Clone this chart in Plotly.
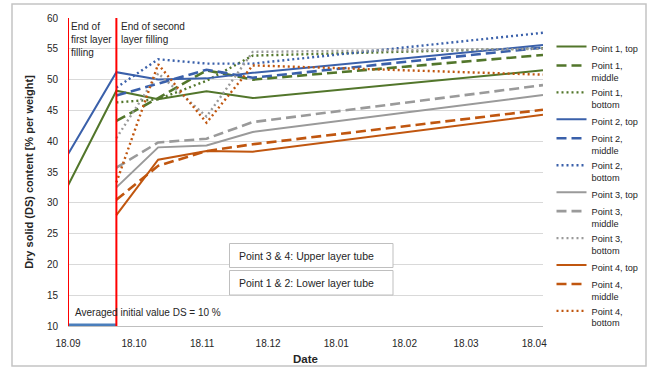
import plotly.graph_objects as go

# ---------------- data ----------------
dates_full = ["2018-09-18", "2018-10-10", "2018-10-29", "2018-11-20", "2018-12-11", "2019-04-22"]
dates_late = ["2018-10-10", "2018-10-29", "2018-11-20", "2018-12-11", "2019-04-22"]

p1_top = [32.8, 48.2, 46.8, 48.1, 47.0, 51.5]
p1_middle = [43.3, 47.0, 51.5, 50.0, 54.0]
p1_bottom = [46.3, 46.8, 49.8, 53.9, 55.1]
p2_top = [37.9, 51.2, 50.0, 50.2, 51.1, 55.6]
p2_middle = [47.4, 49.4, 51.6, 50.3, 55.2]
p2_bottom = [48.7, 53.3, 52.6, 52.6, 57.6]
p3_top = [32.5, 39.0, 39.3, 41.5, 47.5]
p3_middle = [35.7, 39.8, 40.4, 43.1, 49.1]
p3_bottom = [40.5, 51.0, 44.0, 54.5, 55.0]
p4_top = [28.0, 37.0, 38.4, 38.3, 44.3]
p4_middle = [30.5, 36.0, 38.4, 39.5, 45.1]
p4_bottom = [33.3, 52.5, 43.0, 52.3, 50.8]

initial_dates = ["2018-09-18", "2018-10-10"]
initial_value = [10, 10]

filling_dates = ["2018-09-18", "2018-10-10"]

tick_dates = ["2018-09-18", "2018-10-18", "2018-11-18", "2018-12-18",
              "2019-01-18", "2019-02-18", "2019-03-18", "2019-04-18"]
tick_labels = ["18.09", "18.10", "18.11", "18.12", "18.01", "18.02", "18.03", "18.04"]

# ---------------- style ----------------
FONT = "Liberation Sans, Arial, sans-serif"
TXT = "#262626"
GREEN = "#52762B"
BLUE = "#3A60AA"
GRAY = "#9A9A9A"
ORANGE = "#C0560F"
DASH = "10px,5px"
DOT = "2px,3px"

series = [
    ("Point 1, top", dates_full, p1_top, GREEN, "solid", 2),
    ("Point 1,<br>middle", dates_late, p1_middle, GREEN, DASH, 2.6),
    ("Point 1,<br>bottom", dates_late, p1_bottom, GREEN, DOT, 2.4),
    ("Point 2, top", dates_full, p2_top, BLUE, "solid", 2),
    ("Point 2,<br>middle", dates_late, p2_middle, BLUE, DASH, 2.6),
    ("Point 2,<br>bottom", dates_late, p2_bottom, BLUE, DOT, 2.4),
    ("Point 3, top", dates_late, p3_top, GRAY, "solid", 2),
    ("Point 3,<br>middle", dates_late, p3_middle, GRAY, DASH, 2.6),
    ("Point 3,<br>bottom", dates_late, p3_bottom, GRAY, DOT, 2.4),
    ("Point 4, top", dates_late, p4_top, ORANGE, "solid", 2),
    ("Point 4,<br>middle", dates_late, p4_middle, ORANGE, DASH, 2.6),
    ("Point 4,<br>bottom", dates_late, p4_bottom, ORANGE, DOT, 2.4),
]

fig = go.Figure()

fig.add_trace(go.Scatter(x=initial_dates, y=initial_value, mode="lines",
                         line=dict(color="#4A7EBB", width=5), showlegend=False,
                         cliponaxis=False, hoverinfo="skip"))

for name, xs, ys, color, dash, w in series:
    fig.add_trace(go.Scatter(x=xs, y=ys, mode="lines", name=name,
                             line=dict(color=color, dash=dash, width=w)))

L, R, T, B = 68, 106, 18, 41
W, H = 649, 367
PW, PH = W - L - R, H - T - B


def px_x(p):
    return (p - L) / PW


def px_y(p):
    return (H - B - p) / PH


shapes = []
# outer frame
shapes.append(dict(type="rect", xref="paper", yref="paper",
                   x0=px_x(12), x1=px_x(646), y0=px_y(366), y1=px_y(4),
                   line=dict(color="#C4C4C4", width=1.5), layer="below"))
# filling lines
for d in filling_dates:
    shapes.append(dict(type="line", xref="x", yref="y", x0=d, x1=d, y0=10, y1=60,
                       line=dict(color="#FF0000", width=2), layer="above"))
# text boxes
shapes.append(dict(type="rect", xref="paper", yref="paper",
                   x0=px_x(229.5), x1=px_x(393), y0=px_y(267.5), y1=px_y(243.5),
                   line=dict(color="#BFBFBF", width=1), fillcolor="white", layer="above"))
shapes.append(dict(type="rect", xref="paper", yref="paper",
                   x0=px_x(229.5), x1=px_x(393), y0=px_y(295), y1=px_y(270.5),
                   line=dict(color="#BFBFBF", width=1), fillcolor="white", layer="above"))

annotations = [
    dict(text="End of<br>first layer<br>filling", xref="x", yref="y", x="2018-09-18", y=60,
         xanchor="left", yanchor="top", xshift=1, yshift=-1, showarrow=False, align="left",
         font=dict(family=FONT, size=10, color=TXT)),
    dict(text="End of second<br>layer filling", xref="x", yref="y", x="2018-10-10", y=60,
         xanchor="left", yanchor="top", xshift=3, yshift=-1, showarrow=False, align="left",
         font=dict(family=FONT, size=10, color=TXT)),
    dict(text="Averaged initial value DS = 10 %", xref="x", yref="y", x="2018-09-18", y=12.2,
         xanchor="left", yanchor="middle", xshift=5, showarrow=False,
         font=dict(family=FONT, size=10, color=TXT)),
    dict(text="Point 3 & 4: Upper layer tube", xref="paper", yref="paper", x=px_x(237), y=px_y(255.5),
         xanchor="left", yanchor="middle", showarrow=False,
         font=dict(family=FONT, size=10.5, color=TXT)),
    dict(text="Point 1 & 2: Lower layer tube", xref="paper", yref="paper", x=px_x(237), y=px_y(282.5),
         xanchor="left", yanchor="middle", showarrow=False,
         font=dict(family=FONT, size=10.5, color=TXT)),
]

fig.update_layout(
    width=W, height=H,
    margin=dict(l=L, r=R, t=T, b=B, autoexpand=False),
    paper_bgcolor="white", plot_bgcolor="white",
    font=dict(family=FONT, size=10, color=TXT),
    shapes=shapes, annotations=annotations,
    legend=dict(xref="container", yref="container", x=551.5 / W, y=1 - 34 / H,
                xanchor="left", yanchor="top", maxheight=1,
                font=dict(family=FONT, size=9.2, color=TXT),
                tracegroupgap=0, valign="top", bgcolor="rgba(0,0,0,0)"),
    xaxis=dict(type="date", range=["2018-09-18", "2019-04-22"],
               tickvals=tick_dates, ticktext=tick_labels, showgrid=False,
               showline=True, linecolor="#BFBFBF", linewidth=1, ticks="",
               ticklabelstandoff=8, zeroline=False,
               title=dict(text="<b>Date</b>", standoff=6,
                          font=dict(family=FONT, size=11.5, color=TXT)),
               tickfont=dict(family=FONT, size=10)),
    yaxis=dict(range=[10, 60], dtick=5, tick0=10, showgrid=True, gridcolor="#D9D9D9",
               gridwidth=1, zeroline=False, showline=False, ticks="",
               ticklabelstandoff=9,
               title=dict(text="<b>Dry solid (DS) content [% per weight]</b>", standoff=11,
                          font=dict(family=FONT, size=11, color=TXT)),
               tickfont=dict(family=FONT, size=10)),
)

fig.write_html("out.html")
